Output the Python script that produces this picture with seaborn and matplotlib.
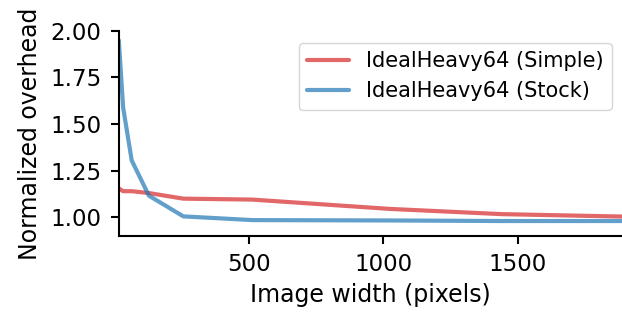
import matplotlib
matplotlib.use("Agg")
import matplotlib.pyplot as plt
import seaborn as sns
import pandas as pd

widths = [16, 32, 64, 128, 256, 512, 1024, 1440, 1920]
simple = [1.155, 1.14, 1.14, 1.13, 1.10, 1.095, 1.045, 1.017, 1.003]
stock = [1.95, 1.59, 1.305, 1.116, 1.005, 0.985, 0.983, 0.98, 0.98]
labels = ["IdealHeavy64 (Simple)", "IdealHeavy64 (Stock)"]

df = pd.concat([
    pd.DataFrame({"width": widths, "overhead": simple, "config": labels[0]}),
    pd.DataFrame({"width": widths, "overhead": stock, "config": labels[1]}),
])

sns.set_style("ticks", {"text.color": "black", "axes.labelcolor": "black",
                        "xtick.color": "black", "ytick.color": "black",
                        "axes.edgecolor": "black"})
plt.rcParams["font.family"] = ["DejaVu Sans"]

fig = plt.figure(figsize=(6.22, 3.15), dpi=100)
ax = fig.add_axes([0.191, 0.251, 0.809, 0.651])
sns.lineplot(data=df, x="width", y="overhead", hue="config",
             palette=["#d62728", "#1f77b4"], alpha=0.7, linewidth=3, ax=ax)

ax.set_xlim(16, 1888)
ax.set_ylim(0.9, 2.0)
ax.set_xticks([500, 1000, 1500])
ax.set_yticks([1.0, 1.25, 1.5, 1.75, 2.0])
ax.set_yticklabels(["1.00", "1.25", "1.50", "1.75", "2.00"])
ax.set_xlabel("Image width (pixels)", fontsize=17, labelpad=5)
ax.set_ylabel("Normalized overhead", fontsize=17, labelpad=6)
ax.tick_params(labelsize=16.5, width=1.5, length=6, pad=6.5)
for s in ["left", "bottom"]:
    ax.spines[s].set_linewidth(1.5)
sns.despine(ax=ax)
leg = ax.legend(title=None, fontsize=15, loc="upper right",
                bbox_to_anchor=(1.0, 0.993), handlelength=2.0)
fig.savefig("out.png", dpi=100)
